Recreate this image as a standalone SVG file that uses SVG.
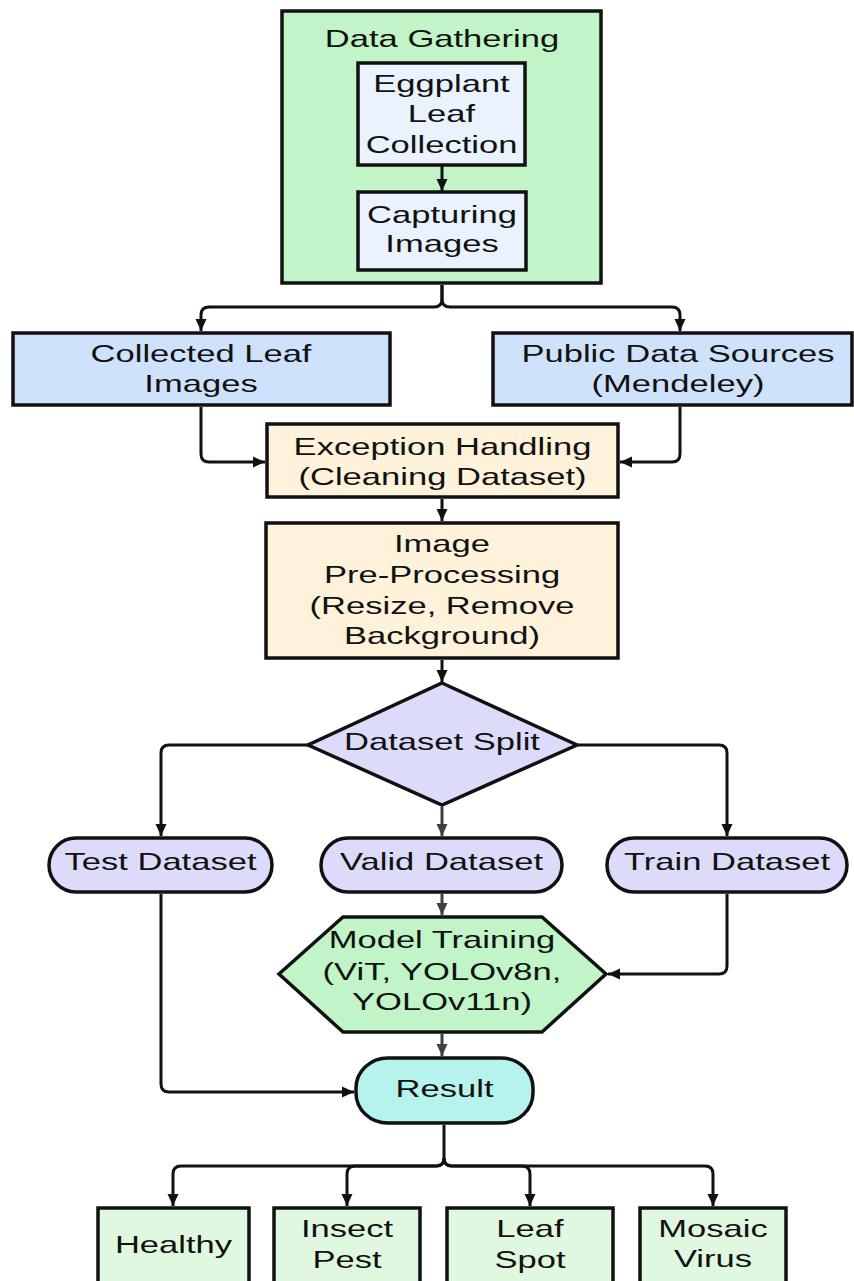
<svg xmlns="http://www.w3.org/2000/svg" width="854" height="1281" viewBox="0 0 854 1281">
<defs>
<style>
.t{font-family:"Liberation Sans",Arial,sans-serif;font-size:24px;fill:#111;text-anchor:middle}
.b{stroke:#111;stroke-width:3.5}
.c{fill:none;stroke:#111;stroke-width:3}
.g{fill:none;stroke:#404040;stroke-width:3}
</style>
<marker id="ah" viewBox="0 0 12 12" refX="12" refY="6" markerWidth="12" markerHeight="12" markerUnits="userSpaceOnUse" orient="auto">
<path d="M0,0.5 L12,6 L0,11.5 Z" fill="#111"/>
</marker>
<marker id="ahg" viewBox="0 0 12 12" refX="12" refY="6" markerWidth="12" markerHeight="12" markerUnits="userSpaceOnUse" orient="auto">
<path d="M0,0.5 L12,6 L0,11.5 Z" fill="#404040"/>
</marker>
</defs>
<rect width="854" height="1281" fill="#fff"/>

<g id="data-gathering">
<rect class="b" x="282" y="11" width="319" height="272" fill="#c1f5c7"/>
<text class="t" transform="translate(442,47) scale(1.44,1)">Data Gathering</text>
</g>
<g id="eggplant-leaf-collection">
<rect class="b" x="358" y="63" width="167" height="102" fill="#eaf3fd"/>
<text class="t" transform="translate(441.5,92) scale(1.44,1)">Eggplant</text>
<text class="t" transform="translate(441.5,122) scale(1.44,1)">Leaf</text>
<text class="t" transform="translate(441.5,153) scale(1.44,1)">Collection</text>
</g>
<g id="capturing-images">
<rect class="b" x="358" y="192" width="168" height="78" fill="#eaf3fd"/>
<text class="t" transform="translate(442,223) scale(1.44,1)">Capturing</text>
<text class="t" transform="translate(442,252) scale(1.44,1)">Images</text>
</g>
<g id="collected-leaf-images">
<rect class="b" x="13" y="333" width="377" height="72" fill="#cfe2fc"/>
<text class="t" transform="translate(201,362) scale(1.44,1)">Collected Leaf</text>
<text class="t" transform="translate(201,392) scale(1.44,1)">Images</text>
</g>
<g id="public-data-sources">
<rect class="b" x="493" y="333" width="359" height="72" fill="#cfe2fc"/>
<text class="t" transform="translate(678,362) scale(1.44,1)">Public Data Sources</text>
<text class="t" transform="translate(678,392) scale(1.44,1)">(Mendeley)</text>
</g>
<g id="exception-handling">
<rect class="b" x="267" y="424" width="351" height="73" fill="#fff2da"/>
<text class="t" transform="translate(442.5,455) scale(1.44,1)">Exception Handling</text>
<text class="t" transform="translate(442.5,485) scale(1.44,1)">(Cleaning Dataset)</text>
</g>
<g id="image-preprocessing">
<rect class="b" x="266" y="523" width="352" height="135" fill="#fff2da"/>
<text class="t" transform="translate(442,552) scale(1.44,1)">Image</text>
<text class="t" transform="translate(442,583) scale(1.44,1)">Pre-Processing</text>
<text class="t" transform="translate(442,614) scale(1.44,1)">(Resize, Remove</text>
<text class="t" transform="translate(442,644) scale(1.44,1)">Background)</text>
</g>
<g id="dataset-split">
<polygon class="b" points="442,683 577,745 442,805 308,745" fill="#dcdcfa" stroke-linejoin="miter"/>
<text class="t" transform="translate(442,750) scale(1.44,1)">Dataset Split</text>
</g>
<g id="test-dataset">
<rect class="b" x="49" y="838" width="223" height="54" rx="27" ry="27" fill="#dcdcfa"/>
<text class="t" transform="translate(160.5,870) scale(1.44,1)">Test Dataset</text>
</g>
<g id="valid-dataset">
<rect class="b" x="321" y="838" width="241" height="54" rx="27" ry="27" fill="#dcdcfa"/>
<text class="t" transform="translate(441.5,870) scale(1.44,1)">Valid Dataset</text>
</g>
<g id="train-dataset">
<rect class="b" x="607" y="838" width="240" height="54" rx="27" ry="27" fill="#dcdcfa"/>
<text class="t" transform="translate(727,870) scale(1.44,1)">Train Dataset</text>
</g>
<g id="model-training">
<polygon class="b" points="343,917 542,917 606,974 542,1032 343,1032 279,974" fill="#c1f5c7"/>
<text class="t" transform="translate(442,948) scale(1.44,1)">Model Training</text>
<text class="t" transform="translate(442,980) scale(1.44,1)">(ViT, YOLOv8n,</text>
<text class="t" transform="translate(442,1010) scale(1.44,1)">YOLOv11n)</text>
</g>
<g id="result">
<rect class="b" x="356" y="1058" width="177" height="65" rx="32" ry="30" fill="#b5f3ec"/>
<text class="t" transform="translate(444.5,1097) scale(1.44,1)">Result</text>
</g>
<g id="healthy">
<rect class="b" x="98" y="1208" width="151" height="100" fill="#e0f8e0"/>
<text class="t" transform="translate(173.5,1253) scale(1.44,1)">Healthy</text>
</g>
<g id="insect-pest">
<rect class="b" x="274" y="1208" width="146" height="100" fill="#e0f8e0"/>
<text class="t" transform="translate(347,1237) scale(1.44,1)">Insect</text>
<text class="t" transform="translate(347,1268) scale(1.44,1)">Pest</text>
</g>
<g id="leaf-spot">
<rect class="b" x="447" y="1208" width="166" height="100" fill="#e0f8e0"/>
<text class="t" transform="translate(530,1237) scale(1.44,1)">Leaf</text>
<text class="t" transform="translate(530,1268) scale(1.44,1)">Spot</text>
</g>
<g id="mosaic-virus">
<rect class="b" x="640" y="1208" width="146" height="100" fill="#e0f8e0"/>
<text class="t" transform="translate(713,1237) scale(1.44,1)">Mosaic</text>
<text class="t" transform="translate(713,1267) scale(1.44,1)">Virus</text>
</g>

<g id="connectors">
<path class="c" d="M442,165 V191" marker-end="url(#ah)"/>
<path class="c" d="M442,285 V299 Q442,307 434,307 H209 Q201,307 201,315 V331" marker-end="url(#ah)"/>
<path class="c" d="M442,285 V299 Q442,307 450,307 H672 Q680,307 680,315 V331" marker-end="url(#ah)"/>
<path class="c" d="M201,407 V454 Q201,462 209,462 H265" marker-end="url(#ah)"/>
<path class="c" d="M680,407 V454 Q680,462 672,462 H620" marker-end="url(#ah)"/>
<path class="c" d="M442,499 V521" marker-end="url(#ah)"/>
<path class="c" d="M442,660 V682" marker-end="url(#ah)"/>
<path class="c" d="M308,745 H169 Q161,745 161,753 V836" marker-end="url(#ah)"/>
<path class="c" d="M577,745 H719 Q727,745 727,753 V836" marker-end="url(#ah)"/>
<path class="g" d="M442,807 V836" marker-end="url(#ahg)"/>
<path class="g" d="M442,894 V915" marker-end="url(#ahg)"/>
<path class="c" d="M727,894 V966 Q727,974 719,974 H608" marker-end="url(#ah)"/>
<path class="c" d="M161,894 V1084 Q161,1092 169,1092 H354" marker-end="url(#ah)"/>
<path class="g" d="M442,1034 V1056" marker-end="url(#ahg)"/>
<path class="c" d="M444,1125 V1158 Q444,1166 436,1166 H181 Q173,1166 173,1174 V1206" marker-end="url(#ah)"/>
<path class="c" d="M444,1158 Q444,1166 436,1166 H355 Q347,1166 347,1174 V1206" marker-end="url(#ah)"/>
<path class="c" d="M444,1158 Q444,1166 452,1166 H522 Q530,1166 530,1174 V1206" marker-end="url(#ah)"/>
<path class="c" d="M444,1158 Q444,1166 452,1166 H705 Q713,1166 713,1174 V1206" marker-end="url(#ah)"/>
</g>
</svg>
